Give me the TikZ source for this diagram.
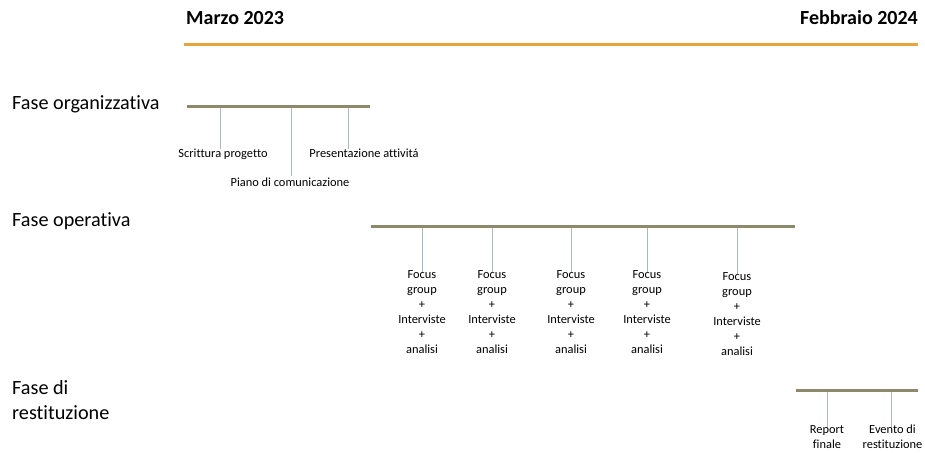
\documentclass[tikz,border=0pt]{standalone}
\usepackage{fontspec}
\setmainfont[Ligatures=NoCommon]{Carlito}
\definecolor{orangeline}{RGB}{232,163,58}
\definecolor{barcol}{RGB}{140,138,106}
\definecolor{tickcol}{RGB}{170,182,200}
\begin{document}
\begin{tikzpicture}[x=1pt,y=-1pt,
  title/.style={font=\fontsize{20}{22}\selectfont\bfseries, inner sep=0pt},
  phase/.style={font=\fontsize{20.2}{25}\selectfont, inner sep=0pt, anchor=west, align=left},
  bar/.style={draw=barcol, line width=3pt},
  tick/.style={draw=tickcol, line width=1pt},
  lbl/.style={font=\fontsize{12.4}{15}\selectfont, inner sep=0pt, align=center, anchor=north}]
\useasboundingbox (0,0) rectangle (925,452);
% timeline header
\node[title, anchor=west] (start) at (186,18) {Marzo 2023};
\node[title, anchor=east] (end) at (918,18) {Febbraio 2024};
\coordinate (tl1) at (184,45);
\coordinate (tl2) at (918,45);
\draw[draw=orangeline, line width=3pt] (tl1) -- (tl2);

% Fase organizzativa
\node[phase] (p1) at (12,104) {Fase organizzativa};
\coordinate (b1a) at (187,106);
\coordinate (b1b) at (370,106);
\draw[bar] (b1a) -- (b1b);
\node[lbl] (o1) at (223,149) {Scrittura progetto};
\node[lbl] (o2) at (290,178) {Piano di comunicazione};
\node[lbl] (o3) at (364,149) {Presentazione attivitá};
\coordinate (t1) at (220,107.5);
\coordinate (t2) at (291,107.5);
\coordinate (t3) at (348,107.5);
\draw[tick] (t1) -- (t1 |- o1.north);
\draw[tick] (t2) -- ([yshift=2pt]t2 |- o2.north);
\draw[tick] (t3) -- (t3 |- o3.north);

% Fase operativa
\node[phase] (p2) at (12,221) {Fase operativa};
\coordinate (b2a) at (371,226);
\coordinate (b2b) at (795,226);
\draw[bar] (b2a) -- (b2b);
\foreach \x/\y/\n in {422/270/f1, 492/270/f2, 571/270/f3, 647/270/f4, 737/272/f5}{
  \node[lbl] (\n) at (\x,\y) {Focus\\group\\+\\Interviste\\+\\analisi};
  \coordinate (\n t) at (\x,227.5);
  \draw[tick] (\n t) -- ([yshift=-2pt]\n.north);
}

% Fase di restituzione
\node[phase] (p3) at (12,400) {Fase di\\restituzione};
\coordinate (b3a) at (796,390);
\coordinate (b3b) at (918,390);
\draw[bar] (b3a) -- (b3b);
\node[lbl] (r1) at (827,425) {Report\\finale};
\node[lbl] (r2) at (892.5,425) {Evento di\\restituzione};
\coordinate (rt1) at (827,391.5);
\coordinate (rt2) at (891,391.5);
\draw[tick] (rt1) -- ([yshift=-2pt]rt1 |- r1.north);
\draw[tick] (rt2) -- ([yshift=-2pt]rt2 |- r2.north);
\end{tikzpicture}
\end{document}
